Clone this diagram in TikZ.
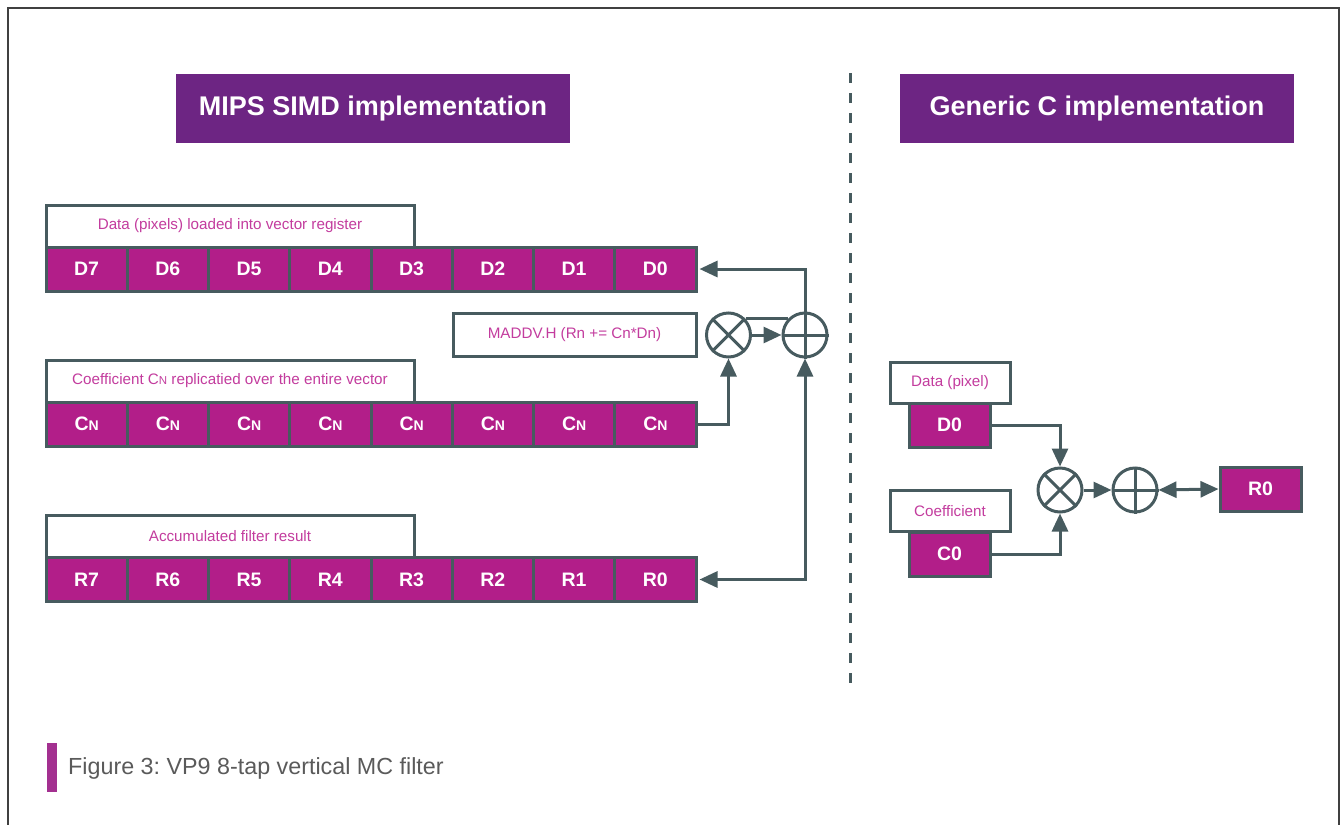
\documentclass[tikz,border=0pt]{standalone}
\usepackage{fontspec}
\setmainfont{Liberation Sans}
\frenchspacing
\usetikzlibrary{arrows.meta,calc}
\definecolor{ttl}{HTML}{6D2583}
\definecolor{cellc}{HTML}{B21E89}
\definecolor{edge}{HTML}{475B5F}
\definecolor{lbl}{HTML}{C33C9E}
\definecolor{capg}{HTML}{5A5A5A}
\definecolor{barc}{HTML}{A33090}
\tikzset{
  titlebox/.style={fill=ttl, text=white, minimum width=394pt, minimum height=69pt, inner sep=0pt,
    font=\fontsize{27}{30}\selectfont\bfseries},
  cell/.style={draw=edge, line width=3pt, fill=cellc, text=white, minimum width=81.25pt, minimum height=44pt,
    inner sep=0pt, font=\fontsize{19.5}{22}\selectfont\bfseries},
  labelbox/.style={draw=edge, line width=3pt, fill=white, text=lbl, minimum width=368pt, minimum height=42pt,
    inner sep=0pt, font=\fontsize{15.2}{17}\selectfont},
  opc/.style={circle, draw=edge, line width=3pt, minimum size=44pt, inner sep=0pt},
  conn/.style={draw=edge, line width=3pt},
  arr/.style={conn, -{Triangle[length=18pt,width=16pt]}},
  arrb/.style={conn, {Triangle[length=18pt,width=16pt]}-{Triangle[length=18pt,width=16pt]}},
}
\newcommand{\cnsub}{C{\fontsize{14}{15}\selectfont N}}
\newcommand{\cnsubl}{C{\fontsize{11.5}{12}\selectfont N}}
\newcommand{\lowered}[1]{\raisebox{-2pt}{#1}}
\begin{document}
\begin{tikzpicture}[x=1pt,y=-1pt]
\useasboundingbox (0,0) rectangle (1342,825);
% frame
\draw[line width=1.5pt, black!75] (8,825) -- (8,8) -- (1339,8) -- (1339,825);
% titles
\node[titlebox] (t1) at (373,108.5) {\lowered{MIPS SIMD implementation}};
\node[titlebox] (t2) at (1097,108.5) {\lowered{Generic C implementation}};
% divider
\draw[edge, line width=3pt, dash pattern=on 10pt off 10pt] (850,73) -- (850,688);
% labels
\node[labelbox] (ld) at (230,226) {\lowered{Data (pixels) loaded into vector register}};
\node[labelbox] (lc) at (230,381) {\lowered{Coefficient \cnsubl{} replicatied over the entire vector}};
\node[labelbox] (lr) at (230,536) {\lowered{Accumulated filter result}};
\node[labelbox, minimum width=243pt, minimum height=43pt] (lm) at (574.5,334.5) {\lowered{MADDV.H (Rn += Cn*Dn)}};
% register rows
\foreach \i/\n in {0/7,1/6,2/5,3/4,4/3,5/2,6/1,7/0}{
  \node[cell] (d\n) at ({46+81.25*\i+40.625},269) {D\n};
  \node[cell] (c\n) at ({46+81.25*\i+40.625},424) {\cnsub};
  \node[cell] (r\n) at ({46+81.25*\i+40.625},579.5) {R\n};
}
% operators (SIMD)
\node[opc] (m1) at (728.5,335) {};
\draw[conn] (m1.north west) -- (m1.south east) (m1.north east) -- (m1.south west);
\node[opc] (p1) at (805,335) {};
\draw[conn] (p1.north) -- (p1.south) (p1.west) -- (p1.east);
\draw[conn] (m1.43) -- (p1.137);
\draw[arr] (m1.east) -- (p1.west);
\draw[arr, shorten >=2pt] (p1.north) |- (d0.east);
\draw[arr] (c0.east) -| (m1.south);
\draw[arrb, shorten <=2pt] (r0.east) -| (p1.south);
% generic C
\node[labelbox, minimum width=120pt, minimum height=41pt] (gdl) at (950,382.5) {\lowered{Data (pixel)}};
\node[cell, minimum width=81pt] (gd) at (949.5,425) {D0};
\node[labelbox, minimum width=120pt, minimum height=41pt] (gcl) at (950,511) {\lowered{Coefficient}};
\node[cell, minimum width=81pt] (gc) at (949.5,554) {C0};
\node[opc] (m2) at (1060,490) {};
\draw[conn] (m2.north west) -- (m2.south east) (m2.north east) -- (m2.south west);
\node[opc] (p2) at (1135,490) {};
\draw[conn] (p2.north) -- (p2.south) (p2.west) -- (p2.east);
\node[cell, minimum width=81pt] (gr) at (1260.5,489) {R0};
\draw[arr] (gd.east) -| (m2.north);
\draw[arr] (gc.east) -| (m2.south);
\draw[arr] (m2.east) -- (p2.west);
\draw[arrb] (p2.east) -- (gr.west);
% caption
\fill[barc] (47,743) rectangle (57,792);
\node[anchor=west, text=capg, inner sep=0pt, font=\fontsize{23.3}{26}\selectfont] (cap) at (68,768) {Figure 3: VP9 8-tap vertical MC filter};
\end{tikzpicture}
\end{document}
